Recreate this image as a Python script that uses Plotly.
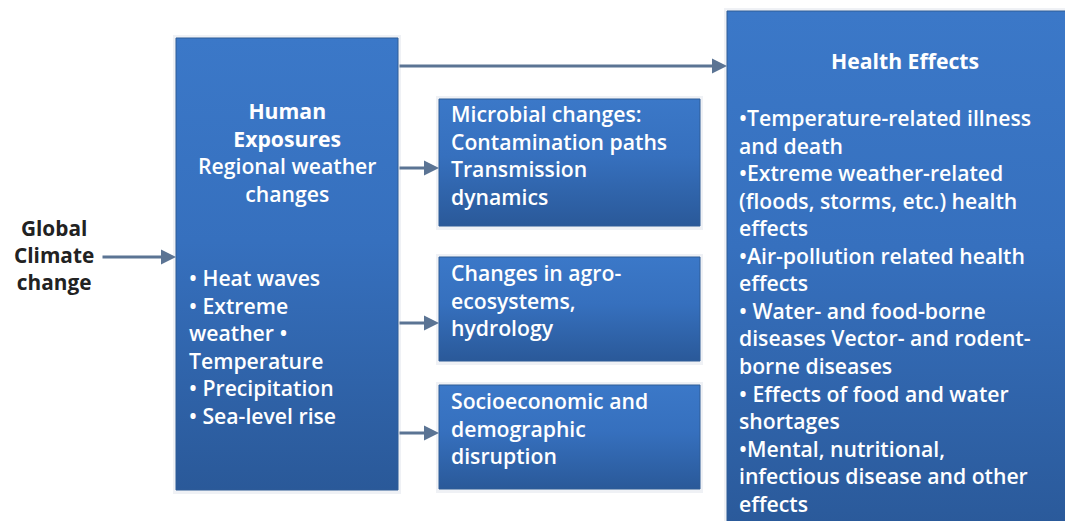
import plotly.graph_objects as go

# Textos do diagrama
global_lines = ['Global', 'Climate', 'change']
human_title = ['Human', 'Exposures']
human_sub = ['Regional weather', 'changes']
human_bullets = ['• Heat waves', '• Extreme', 'weather •', 'Temperature',
                 '• Precipitation', '• Sea-level rise']
micro_lines = ['Microbial changes:', 'Contamination paths', 'Transmission', 'dynamics']
agro_lines = ['Changes in agro-', 'ecosystems,', 'hydrology']
socio_lines = ['Socioeconomic and', 'demographic', 'disruption']
health_title = 'Health Effects'
health_lines = ['•Temperature-related illness', 'and death', '•Extreme weather-related',
                '(floods, storms, etc.) health', 'effects', '•Air-pollution related health',
                'effects', '• Water- and food-borne', 'diseases Vector- and rodent-',
                'borne diseases', '• Effects of food and water', 'shortages',
                '•Mental, nutritional,', 'infectious disease and other', 'effects']

W, H = 1073, 521
OFF = 8  # margem padrão do <body> na página
FONT = 'Open Sans'
FS = 21.2  # plotly usa 1.3em entre linhas -> ~27.6px
fig = go.Figure()

# caixas (x0, y0, x1, y1) em pixels da janela
boxes = {
    'human': (176, 38, 398, 490),
    'micro': (439, 99, 700, 226),
    'agro': (439, 257, 700, 361),
    'socio': (439, 385, 700, 489),
    'health': (727, 11, 1085, 535),
}

for nome, (x0, y0, x1, y1) in boxes.items():
    # sombra suave
    fig.add_shape(type='rect', x0=x0 - 3, y0=y0 - 3, x1=x1 + 3, y1=y1 + 4,
                  line=dict(width=0), fillcolor='rgba(120,140,170,0.12)', layer='below')
    fig.add_trace(go.Scatter(
        x=[x0, x1, x1, x0, x0], y=[y0, y0, y1, y1, y0],
        mode='lines', fill='toself',
        line=dict(width=1, color='#2f5c96'),
        fillgradient=dict(type='vertical', start=y0, stop=y1,
                          colorscale=[[0, '#3b78c8'], [0.45, '#3670be'], [1, '#2a5999']]),
        hoverinfo='skip', showlegend=False))


def bloco(textos, x, yc, cor='white', anchor='left', size=FS, peso=600):
    fig.add_annotation(x=x, y=yc, text='<br>'.join(textos), showarrow=False,
                       xanchor=anchor, yanchor='middle', align=anchor,
                       font=dict(family=FONT, size=size, color=cor, weight=peso))


bloco(global_lines, 54, 255, cor='#222222', anchor='center', size=20.8, peso=700)
bloco([f'<b>{t}</b>' for t in human_title] + human_sub, 287, 152, anchor='center')
bloco(human_bullets, 187, 346)
bloco(micro_lines, 449, 154.5)
bloco(agro_lines, 449, 300)
bloco(socio_lines, 449, 427.5)
bloco([health_title], 905, 60, anchor='center', peso=700)
bloco(health_lines, 737, 310)

# setas
setas = [
    (101, 257, 176, 257),
    (398, 66, 727, 66),
    (398, 168, 439, 168),
    (398, 323, 439, 323),
    (398, 433, 439, 433),
]
for xa, ya, xb, yb in setas:
    fig.add_annotation(x=xb, y=yb, ax=xa, ay=ya, xref='x', yref='y', axref='x', ayref='y',
                       showarrow=True, arrowhead=2, arrowsize=1, arrowwidth=3,
                       arrowcolor='#5b7494', text='')

fig.update_layout(width=W, height=H, margin=dict(l=0, r=0, t=0, b=0),
                  plot_bgcolor='white', paper_bgcolor='white',
                  xaxis=dict(range=[OFF, W + OFF], visible=False, fixedrange=True),
                  yaxis=dict(range=[H + OFF, OFF], visible=False, fixedrange=True))

fig.write_html('out.html')
